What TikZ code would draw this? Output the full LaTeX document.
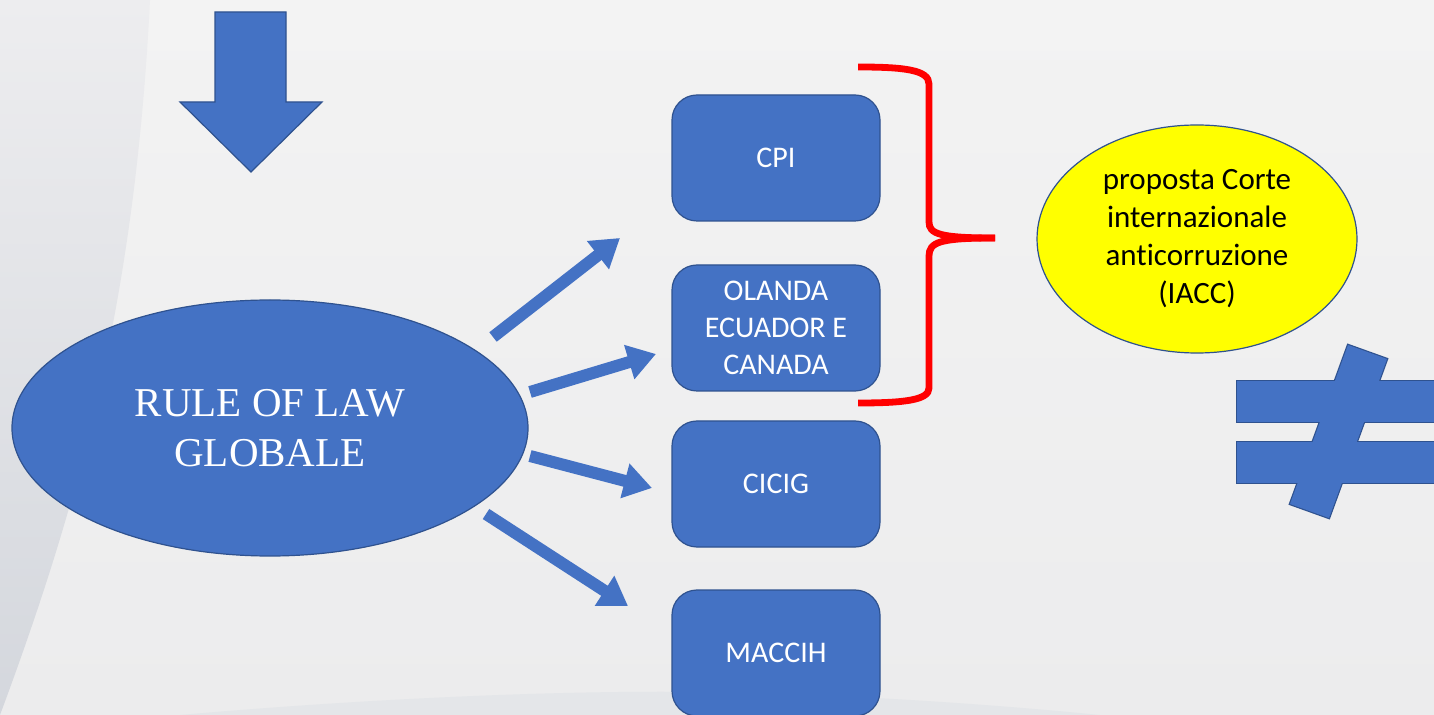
\documentclass[tikz,border=0pt]{standalone}
\usepackage{fontspec}
\setmainfont{Carlito}[Ligatures={NoCommon}]
\newfontfamily\timesfont{Liberation Serif}
\usetikzlibrary{shapes.geometric,arrows.meta}
\definecolor{bblue}{HTML}{4472C4}
\definecolor{bedge}{HTML}{2F528F}
\definecolor{bgbase}{HTML}{ECECED}
\definecolor{bgtop}{HTML}{F3F3F3}
\definecolor{bandtop}{HTML}{EDEDEF}
\definecolor{bandbot}{HTML}{D4D7DD}
\definecolor{bottomband}{HTML}{E4E6E9}
\definecolor{bred}{HTML}{FF0000}
\definecolor{byellow}{HTML}{FFFF00}
\begin{document}
\begin{tikzpicture}[x=0.5pt,y=-0.5pt,
  box/.style={draw=bedge, line width=0.6pt, fill=bblue, rounded corners=12.5pt,
    minimum width=104pt, minimum height=63pt, text=white, align=center,
    font=\fontsize{15}{18.5}\selectfont, inner sep=0pt},
  blockarrow/.style={draw=bblue, line width=6pt, -{Triangle[width=17pt,length=14pt]}},
  shapefill/.style={fill=bblue},
  shapeedge/.style={draw=bedge, line width=1.2pt},
  brace/.style={draw=bred, line width=3.4pt},
  ]
\useasboundingbox (0,0) rectangle (1434,715);
\clip (0,0) rectangle (1434,715);
% background
\shade[top color=bgtop, bottom color=bgbase] (0,0) rectangle (1434,715);
\shade[top color=bandtop, bottom color=bandbot]
  (0,0) -- (150,0) .. controls (135,300) and (80,500) .. (0,715) -- cycle;
\fill[bottomband] (180,715) .. controls (350,700) and (550,690) .. (700,692)
  .. controls (850,694) and (1000,705) .. (1100,715) -- cycle;

% top down arrow
\filldraw[fill=bblue, draw=bedge, line width=0.6pt]
  (215,12) -- (286,12) -- (286,102) -- (322,102) -- (251,172) -- (180,102) -- (215,102) -- cycle;

% main ellipse
\node[ellipse, draw=bedge, line width=0.6pt, fill=bblue, minimum width=258pt, minimum height=128pt,
  inner sep=0pt, text=white, align=center, font=\timesfont\fontsize{20.5}{25}\selectfont]
  (rol) at (270,428) {RULE OF LAW\\GLOBALE};

% boxes
\node[box] (cpi) at (776,158) {CPI};
\node[box] (ola) at (776,328) {OLANDA\\ECUADOR E\\CANADA};
\node[box] (cicig) at (776,484) {CICIG};
\node[box] (maccih) at (776,653) {MACCIH};

% block arrows
\coordinate (a1s) at (493,337); \coordinate (a1e) at (620,238);
\coordinate (a2s) at (530,392); \coordinate (a2e) at (656,354);
\coordinate (a3s) at (530,456); \coordinate (a3e) at (652,488);
\coordinate (a4s) at (486,514); \coordinate (a4e) at (628,606);
\draw[blockarrow] (a1s) -- (a1e);
\draw[blockarrow] (a2s) -- (a2e);
\draw[blockarrow] (a3s) -- (a3e);
\draw[blockarrow] (a4s) -- (a4e);

% brace
\coordinate (btop) at (858,67);
\coordinate (btip) at (995,238);
\coordinate (bbot) at (858,403);
\draw[brace, line cap=butt] (btop) .. controls (905,67) and (929,70) .. (929,84) -- (929,222)
  .. controls (929,234) and (940,238) .. (btip);
\draw[brace, line cap=butt] (btip) .. controls (940,238) and (929,242) .. (929,256) -- (929,388)
  .. controls (929,400) and (905,403) .. (bbot);

% yellow ellipse
\node[ellipse, draw=bedge, line width=0.6pt, fill=byellow, minimum width=160pt, minimum height=114pt,
  inner sep=0pt, align=center, font=\fontsize{15.5}{19}\selectfont, text=black]
  (iacc) at (1197,239) {proposta Corte\\internazionale\\anticorruzione\\(IACC)};

% not-equal sign
\foreach \s in {shapeedge, shapefill}{
  \path[\s] (1237,381) rectangle (1440,422);
  \path[\s] (1237,442) rectangle (1440,483);
  \path[\s] (1348,345) -- (1387,359) -- (1329,518) -- (1290,504) -- cycle;
}
\end{tikzpicture}
\end{document}
